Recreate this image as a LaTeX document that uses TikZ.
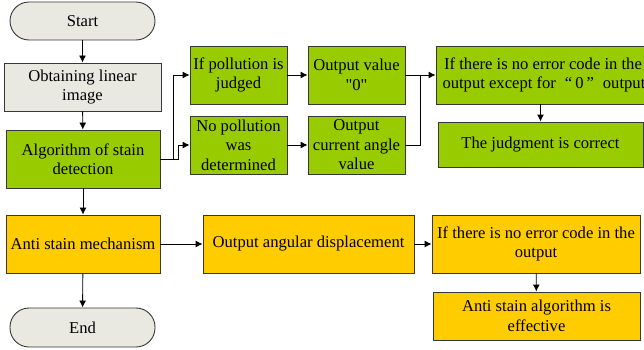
\documentclass[tikz,border=0pt]{standalone}
\usepackage{fontspec}
\setmainfont{Liberation Serif}
\usetikzlibrary{arrows.meta}
\definecolor{stgreen}{RGB}{153,204,0}
\definecolor{styellow}{RGB}{255,204,0}
\definecolor{stgray}{RGB}{233,233,225}
\definecolor{stline}{RGB}{55,55,55}
\tikzset{%
  box/.style={draw=stline,line width=0.9pt,align=center,inner sep=1pt,
    font=\fontsize{16.6}{19.5}\selectfont},%
  greenbox/.style={box,fill=stgreen},%
  yellowbox/.style={box,fill=styellow},%
  graybox/.style={box,fill=stgray},%
  terminal/.style={graybox,rounded corners=19pt,minimum width=145pt,minimum height=38pt},%
  arr/.style={draw=black,line width=0.9pt,-{Latex[length=7pt,width=7pt]}},%
}
\begin{document}
\begin{tikzpicture}[x=1pt,y=-1pt]%
  \useasboundingbox (0,0) rectangle (644,350);%
  % left column
  \node[terminal] (start) at (82.5,21) {Start};%
  \node[graybox,minimum width=157pt,minimum height=48pt] (obtain) at (82.5,87) {Obtaining linear\\image};%
  \node[greenbox,minimum width=154pt,minimum height=58pt] (alg) at (83,159) {Algorithm of stain\\detection};%
  \node[yellowbox,minimum width=154pt,minimum height=58pt] (anti) at (83,244) {Anti stain mechanism};%
  \node[terminal,minimum height=39pt] (end) at (82.5,327.5) {End};%
  % green branch
  \node[greenbox,minimum width=97pt,minimum height=58pt] (ifpol) at (238.5,75) {If pollution is\\judged};%
  \node[greenbox,minimum width=97pt,minimum height=58pt] (nopol) at (238.5,145) {No pollution\\was\\determined};%
  \node[greenbox,minimum width=97pt,minimum height=58pt] (outval) at (356.5,75) {Output value\\\textquotedbl0\textquotedbl};%
  \node[greenbox,minimum width=97pt,minimum height=58pt] (outcur) at (356.5,145) {Output\\current angle\\value};%
  \node[greenbox,minimum width=214pt,minimum height=58pt] (ifnoerr) at (543,75) {If there is no error code in the\\\makebox[201pt][l]{output except for\hspace{9pt}“\hspace{3pt}0\hspace{3pt}”\hspace{9pt}output}};%
  \node[greenbox,minimum width=205pt,minimum height=45pt] (judge) at (540.5,144.5) {The judgment is correct};%
  % yellow branch
  \node[yellowbox,minimum width=211pt,minimum height=58pt] (outang) at (308.5,244) {Output angular displacement};%
  \node[yellowbox,minimum width=208pt,minimum height=58pt] (ifnoerrb) at (536,244) {If there is no error code in the\\output};%
  \node[yellowbox,minimum width=207pt,minimum height=48pt] (effect) at (536.5,316) {Anti stain algorithm is\\effective};%
  % connectors
  \draw[arr] (start) -- (obtain);%
  \draw[arr] (obtain) -- (alg);%
  \draw[arr] (alg) -- (anti);%
  \draw[arr] (anti) -- (end);%
  \draw[arr] (alg.east) -- ++(13,0) |- (ifpol.west);%
  \draw[arr] (alg.east) -- ++(18,0) |- (nopol.west);%
  \draw[arr] (ifpol) -- (outval);%
  \draw[arr] (nopol) -- (outcur);%
  \draw[arr] (outval) -- (ifnoerr);%
  \coordinate (join) at ([xshift=15pt]outval.east);%
  \draw[line width=0.9pt] (outcur.east) -| (join);%
  \draw[arr] (ifnoerr.south -| judge.north) -- (judge.north);%
  \draw[arr] (anti) -- (outang);%
  \draw[arr] (outang) -- (ifnoerrb);%
  \draw[arr] (ifnoerrb) -- (effect);%
\end{tikzpicture}
\end{document}
